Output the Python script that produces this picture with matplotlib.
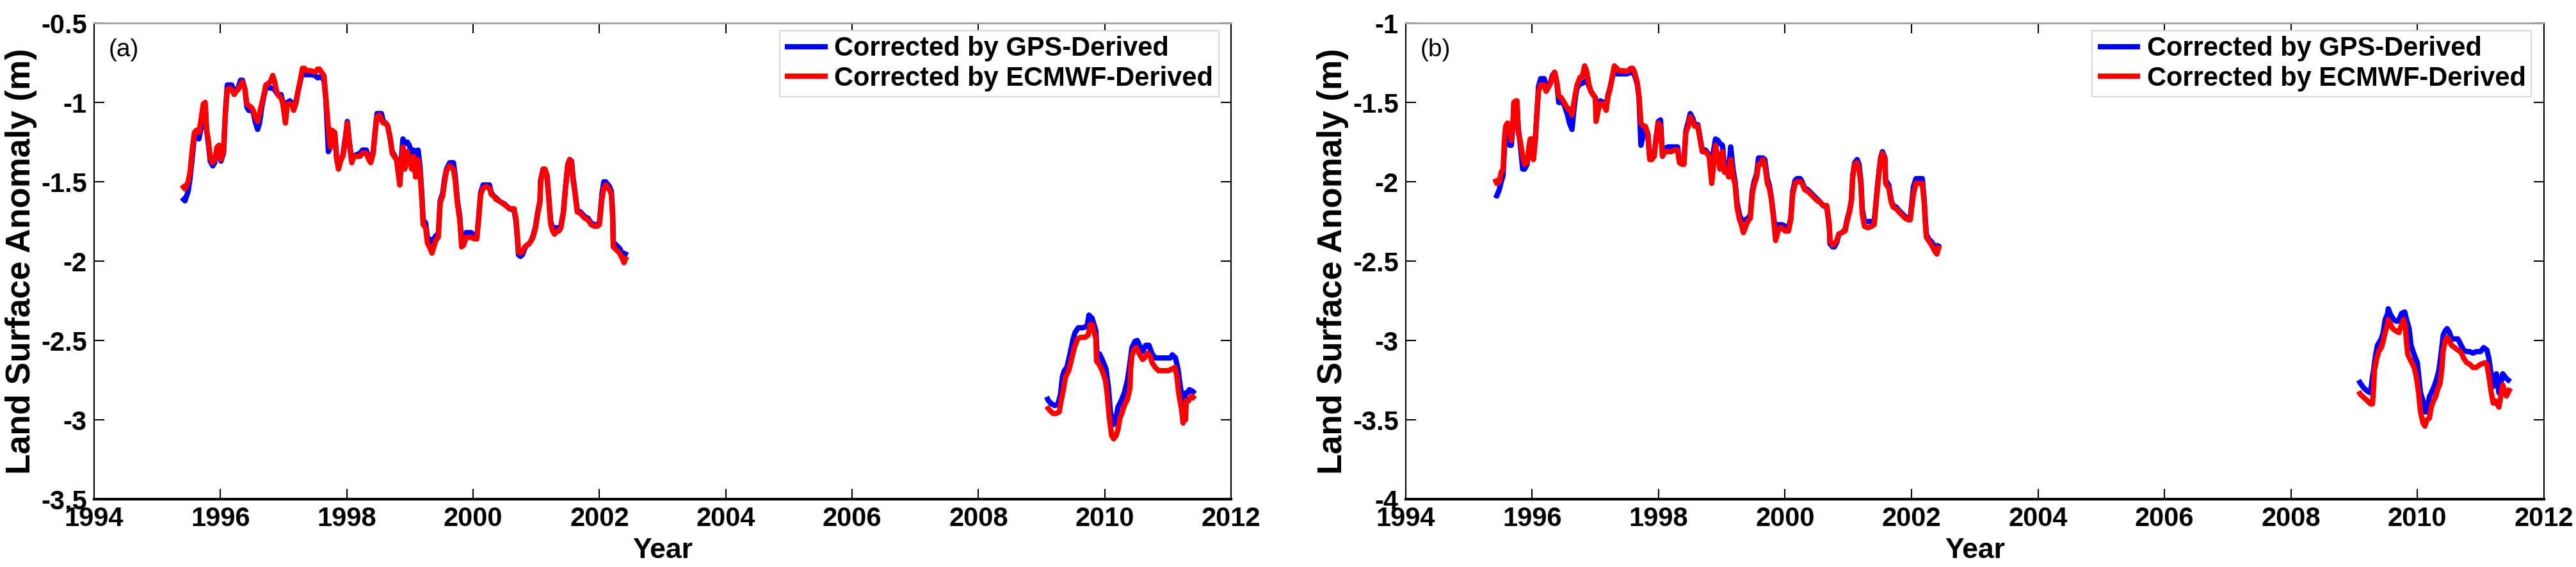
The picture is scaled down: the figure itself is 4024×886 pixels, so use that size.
import matplotlib
matplotlib.use('Agg')
from matplotlib import pyplot as plt
from matplotlib.ticker import FormatStrFormatter, MultipleLocator

plt.rcParams['font.family'] = ['Liberation Sans', 'DejaVu Sans']
plt.rcParams['font.weight'] = 'bold'

# ---- panel (a), 1995-2002 part ----
a_year1 = [1995.39, 1995.44, 1995.49, 1995.52, 1995.56, 1995.59, 1995.62, 1995.66, 1995.69, 1995.73,
           1995.76, 1995.78, 1995.81, 1995.84, 1995.88, 1995.91, 1995.95, 1995.98, 1996.01, 1996.05,
           1996.08, 1996.11, 1996.15, 1996.18, 1996.22, 1996.25, 1996.28, 1996.32, 1996.35, 1996.39,
           1996.42, 1996.45, 1996.49, 1996.52, 1996.55, 1996.59, 1996.62, 1996.66, 1996.69, 1996.72,
           1996.76, 1996.79, 1996.83, 1996.86, 1996.89, 1996.93, 1996.96, 1996.99, 1997.03, 1997.06,
           1997.10, 1997.13, 1997.16, 1997.20, 1997.23, 1997.27, 1997.30, 1997.33, 1997.37, 1997.43,
           1997.50, 1997.54, 1997.57, 1997.60, 1997.64, 1997.67, 1997.71, 1997.74, 1997.77, 1997.81,
           1997.84, 1997.87, 1997.91, 1997.94, 1997.98, 1998.01, 1998.04, 1998.08, 1998.11, 1998.15,
           1998.21, 1998.25, 1998.31, 1998.35, 1998.38, 1998.42, 1998.45, 1998.48, 1998.52, 1998.55,
           1998.58, 1998.62, 1998.65, 1998.69, 1998.72, 1998.75, 1998.79, 1998.84,
           1998.86, 1998.89, 1998.92, 1998.96, 1998.99, 1999.03, 1999.06, 1999.09, 1999.13, 1999.16,
           1999.19, 1999.21, 1999.25, 1999.28, 1999.31, 1999.35, 1999.38, 1999.41, 1999.45, 1999.48,
           1999.52, 1999.55, 1999.58, 1999.63, 1999.69, 1999.72, 1999.75, 1999.79, 1999.82, 1999.85,
           1999.89, 1999.92, 1999.97, 2000.02, 2000.06, 2000.09, 2000.12, 2000.16, 2000.21, 2000.26,
           2000.29, 2000.33, 2000.36, 2000.41, 2000.45, 2000.50, 2000.55, 2000.58, 2000.65, 2000.68,
           2000.70, 2000.72, 2000.75, 2000.78, 2000.82, 2000.85, 2000.89, 2000.92, 2000.95, 2000.99,
           2001.02, 2001.06, 2001.07, 2001.11, 2001.14, 2001.17, 2001.19, 2001.23, 2001.26, 2001.29,
           2001.33, 2001.36, 2001.39, 2001.43, 2001.46, 2001.50, 2001.53, 2001.56, 2001.58, 2001.61,
           2001.65, 2001.70, 2001.77, 2001.82, 2001.87, 2001.92, 2001.97, 2002.00, 2002.04, 2002.07,
           2002.10, 2002.16, 2002.19, 2002.21, 2002.22, 2002.27, 2002.32, 2002.36, 2002.39, 2002.43]
a_ecmwf1 = [-1.52, -1.545, -1.50, -1.44, -1.28, -1.19, -1.175, -1.19, -1.12, -1.01,
            -1.00, -1.16, -1.24, -1.35, -1.38, -1.36, -1.28, -1.27, -1.36, -1.31,
            -1.07, -0.92, -0.91, -0.92, -0.95, -0.93, -0.92, -0.89, -0.87, -0.92,
            -1.01, -1.02, -1.03, -1.05, -1.09, -1.12, -1.07, -1.00, -0.95, -0.89,
            -0.88, -0.87, -0.83, -0.87, -0.93, -0.96, -0.97, -1.01, -1.13, -1.01,
            -1.01, -1.01, -1.05, -1.00, -0.93, -0.85, -0.785, -0.785, -0.80, -0.80,
            -0.81, -0.79, -0.79, -0.81, -0.83, -0.97, -1.16, -1.28, -1.175, -1.19,
            -1.35, -1.42, -1.36, -1.34, -1.23, -1.13, -1.25, -1.38, -1.34, -1.34,
            -1.34, -1.32, -1.32, -1.36, -1.38, -1.32, -1.19, -1.09, -1.08, -1.11,
            -1.13, -1.13, -1.15, -1.23, -1.32, -1.34, -1.36, -1.52,
            -1.42, -1.28, -1.42, -1.31, -1.36, -1.42, -1.34, -1.47, -1.36, -1.44,
            -1.61, -1.77, -1.79, -1.89, -1.91, -1.95, -1.91, -1.87, -1.85, -1.63,
            -1.59, -1.50, -1.43, -1.40, -1.42, -1.50, -1.63, -1.74, -1.91, -1.90,
            -1.85, -1.85, -1.85, -1.86, -1.86, -1.73, -1.58, -1.54, -1.53, -1.54,
            -1.58, -1.59, -1.61, -1.62, -1.63, -1.645, -1.66, -1.67, -1.67, -1.73,
            -1.83, -1.94, -1.95, -1.94, -1.91, -1.90, -1.89, -1.87, -1.85, -1.79,
            -1.71, -1.63, -1.50, -1.42, -1.42, -1.46, -1.56, -1.77, -1.81, -1.83,
            -1.81, -1.81, -1.79, -1.70, -1.56, -1.40, -1.36, -1.38, -1.48, -1.56,
            -1.69, -1.70, -1.73, -1.74, -1.77, -1.78, -1.78, -1.77, -1.61, -1.54,
            -1.52, -1.55, -1.58, -1.71, -1.91, -1.93, -1.95, -1.98, -2.01, -1.97]
a_gps1 = [-1.60, -1.62, -1.56, -1.48, -1.33, -1.20, -1.19, -1.23, -1.17, -1.02,
          -1.01, -1.17, -1.26, -1.37, -1.40, -1.38, -1.29, -1.28, -1.37, -1.32,
          -1.06, -0.89, -0.89, -0.89, -0.94, -0.92, -0.91, -0.86, -0.86, -0.92,
          -1.03, -1.05, -1.05, -1.06, -1.12, -1.17, -1.13, -1.02, -0.96, -0.91,
          -0.90, -0.91, -0.91, -0.92, -0.94, -0.96, -0.95, -1.00, -1.10, -1.00,
          -0.99, -1.00, -1.04, -0.99, -0.93, -0.86, -0.80, -0.825, -0.825, -0.825,
          -0.83, -0.845, -0.84, -0.84, -0.86, -0.98, -1.31, -1.28, -1.18, -1.19,
          -1.35, -1.41, -1.36, -1.33, -1.22, -1.12, -1.24, -1.37, -1.34, -1.33,
          -1.32, -1.30, -1.30, -1.35, -1.37, -1.31, -1.18, -1.07, -1.07, -1.07,
          -1.12, -1.13, -1.15, -1.23, -1.31, -1.33, -1.36, -1.50,
          -1.38, -1.23, -1.26, -1.25, -1.27, -1.32, -1.30, -1.40, -1.30, -1.40,
          -1.58, -1.74, -1.76, -1.86, -1.86, -1.88, -1.86, -1.84, -1.83, -1.62,
          -1.57, -1.48, -1.42, -1.38, -1.38, -1.47, -1.61, -1.72, -1.88, -1.85,
          -1.82, -1.82, -1.82, -1.84, -1.85, -1.72, -1.57, -1.52, -1.52, -1.52,
          -1.57, -1.59, -1.60, -1.62, -1.63, -1.64, -1.66, -1.67, -1.68, -1.75,
          -1.85, -1.96, -1.97, -1.96, -1.92, -1.90, -1.89, -1.87, -1.84, -1.78,
          -1.70, -1.62, -1.49, -1.42, -1.43, -1.46, -1.55, -1.75, -1.79, -1.79,
          -1.79, -1.79, -1.78, -1.69, -1.55, -1.39, -1.36, -1.37, -1.46, -1.55,
          -1.68, -1.69, -1.72, -1.73, -1.76, -1.77, -1.77, -1.76, -1.58, -1.50,
          -1.50, -1.53, -1.56, -1.70, -1.88, -1.90, -1.92, -1.95, -1.97, -1.94]

# ---- panel (a), 2009-2011 part ----
a_year2_ecmwf = [2009.08, 2009.13, 2009.18, 2009.23, 2009.28, 2009.31, 2009.35, 2009.38, 2009.43, 2009.48,
                 2009.52, 2009.57, 2009.62, 2009.69, 2009.74, 2009.77, 2009.80, 2009.86, 2009.87, 2009.91,
                 2009.96, 2010.01, 2010.04, 2010.07, 2010.11, 2010.14, 2010.18, 2010.21, 2010.24, 2010.28,
                 2010.31, 2010.36, 2010.40, 2010.41, 2010.43, 2010.46, 2010.50, 2010.53, 2010.57, 2010.60,
                 2010.63, 2010.68, 2010.72, 2010.75, 2010.80, 2010.85, 2010.92, 2011.01, 2011.06, 2011.11,
                 2011.14, 2011.17, 2011.21, 2011.23, 2011.24, 2011.26, 2011.28, 2011.29, 2011.33, 2011.34,
                 2011.38, 2011.43]
a_ecmwf2 = [-2.915, -2.94, -2.96, -2.96, -2.95, -2.88, -2.80, -2.73, -2.69, -2.61,
            -2.545, -2.49, -2.48, -2.48, -2.465, -2.40, -2.40, -2.49, -2.63, -2.65,
            -2.69, -2.75, -2.84, -2.98, -3.10, -3.12, -3.10, -3.06, -2.99, -2.95,
            -2.91, -2.87, -2.80, -2.68, -2.60, -2.56, -2.545, -2.57, -2.60, -2.62,
            -2.61, -2.58, -2.60, -2.64, -2.67, -2.69, -2.69, -2.69, -2.68, -2.67,
            -2.72, -2.83, -2.92, -2.98, -3.02, -2.935, -3.00, -2.88, -2.88, -2.87,
            -2.85, -2.87]
a_year2_gps = [2009.08, 2009.11, 2009.16, 2009.21, 2009.26, 2009.30, 2009.33, 2009.36, 2009.40, 2009.45,
               2009.50, 2009.53, 2009.58, 2009.65, 2009.72, 2009.75, 2009.80, 2009.86, 2009.88, 2009.92,
               2009.97, 2010.02, 2010.06, 2010.09, 2010.14, 2010.18, 2010.21, 2010.26, 2010.31, 2010.36,
               2010.40, 2010.43, 2010.48, 2010.515, 2010.55, 2010.60, 2010.65, 2010.70, 2010.75, 2010.80,
               2010.87, 2010.97, 2011.04, 2011.07, 2011.12, 2011.16, 2011.19, 2011.23, 2011.24, 2011.28,
               2011.31, 2011.34, 2011.39, 2011.43]
a_gps2 = [-2.855, -2.88, -2.90, -2.91, -2.90, -2.84, -2.73, -2.69, -2.67, -2.585,
          -2.49, -2.45, -2.42, -2.42, -2.41, -2.34, -2.36, -2.44, -2.60, -2.585,
          -2.63, -2.68, -2.80, -2.95, -3.03, -2.99, -2.92, -2.88, -2.83, -2.75,
          -2.64, -2.545, -2.505, -2.50, -2.53, -2.57, -2.53, -2.53, -2.585, -2.61,
          -2.61, -2.61, -2.61, -2.59, -2.61, -2.68, -2.77, -2.88, -2.95, -2.83,
          -2.83, -2.81, -2.82, -2.835]

# ---- panel (b), 1995-2002 part ----
b_year1 = [1995.41, 1995.44, 1995.48, 1995.51, 1995.54, 1995.56, 1995.58, 1995.61, 1995.645, 1995.67,
           1995.70, 1995.71, 1995.74, 1995.76, 1995.78, 1995.81, 1995.85, 1995.88, 1995.92, 1995.95,
           1995.97, 1996.00, 1996.02, 1996.05, 1996.08, 1996.10, 1996.135, 1996.19, 1996.22, 1996.25,
           1996.29, 1996.32, 1996.355, 1996.39, 1996.42, 1996.46, 1996.49, 1996.52, 1996.56, 1996.59,
           1996.63, 1996.66, 1996.69, 1996.71, 1996.76, 1996.79, 1996.83, 1996.86, 1996.90, 1996.93,
           1996.96, 1997.00, 1997.01, 1997.05, 1997.08, 1997.13, 1997.17, 1997.20, 1997.23, 1997.27,
           1997.30, 1997.34, 1997.37, 1997.44, 1997.50, 1997.56, 1997.59, 1997.62, 1997.66, 1997.69,
           1997.72, 1997.76, 1997.79, 1997.83, 1997.86, 1997.89, 1997.93, 1997.96, 1997.995, 1998.03,
           1998.06, 1998.10, 1998.15, 1998.20, 1998.25, 1998.30, 1998.33, 1998.37, 1998.40, 1998.43,
           1998.47, 1998.50, 1998.54, 1998.57, 1998.62, 1998.65, 1998.69, 1998.74,
           1998.80, 1998.84, 1998.87, 1998.90, 1998.94, 1998.97, 1999.01, 1999.04, 1999.07, 1999.11,
           1999.14, 1999.18, 1999.21, 1999.24, 1999.28, 1999.31, 1999.34, 1999.38, 1999.41, 1999.45,
           1999.48, 1999.51, 1999.55, 1999.58, 1999.61, 1999.65, 1999.68, 1999.72, 1999.75, 1999.78,
           1999.82, 1999.85, 1999.89, 1999.92, 1999.95, 2000.00, 2000.055, 2000.09, 2000.12, 2000.16,
           2000.19, 2000.24, 2000.27, 2000.31, 2000.36, 2000.41, 2000.46, 2000.51, 2000.56, 2000.60,
           2000.66, 2000.70, 2000.71, 2000.75, 2000.78, 2000.82, 2000.85, 2000.90, 2000.95, 2000.98,
           2001.02, 2001.05, 2001.07, 2001.10, 2001.14, 2001.17, 2001.20, 2001.22, 2001.255, 2001.31,
           2001.37, 2001.41, 2001.44, 2001.47, 2001.51, 2001.54, 2001.58, 2001.59, 2001.64, 2001.68,
           2001.71, 2001.76, 2001.80, 2001.85, 2001.90, 2001.95, 2001.98, 2002.00, 2002.03, 2002.07,
           2002.12, 2002.17, 2002.20, 2002.22, 2002.235, 2002.27, 2002.32, 2002.37, 2002.40, 2002.44]
b_ecmwf1 = [-1.98, -2.01, -2.00, -1.94, -1.92, -1.74, -1.65, -1.63, -1.65, -1.74,
            -1.59, -1.50, -1.49, -1.49, -1.69, -1.74, -1.84, -1.89, -1.88, -1.78,
            -1.73, -1.73, -1.86, -1.73, -1.54, -1.43, -1.39, -1.39, -1.43, -1.41,
            -1.38, -1.34, -1.31, -1.37, -1.46, -1.47, -1.49, -1.51, -1.54, -1.54,
            -1.58, -1.50, -1.43, -1.39, -1.34, -1.34, -1.27, -1.30, -1.39, -1.43,
            -1.45, -1.47, -1.62, -1.54, -1.51, -1.51, -1.55, -1.46, -1.42, -1.33,
            -1.27, -1.285, -1.30, -1.30, -1.305, -1.285, -1.285, -1.31, -1.37, -1.46,
            -1.63, -1.65, -1.65, -1.70, -1.86, -1.86, -1.84, -1.73, -1.63, -1.65,
            -1.84, -1.81, -1.81, -1.81, -1.80, -1.80, -1.88, -1.89, -1.89, -1.69,
            -1.65, -1.59, -1.62, -1.65, -1.65, -1.72, -1.81, -1.81,
            -1.84, -2.01, -1.89, -1.77, -1.85, -1.92, -1.81, -1.94, -1.92, -1.97,
            -1.86, -1.97, -2.02, -2.16, -2.24, -2.27, -2.32, -2.28, -2.25, -2.23,
            -2.08, -2.02, -1.97, -1.89, -1.89, -1.86, -1.89, -2.01, -2.04, -2.10,
            -2.24, -2.37, -2.31, -2.29, -2.29, -2.31, -2.31, -2.24, -2.08, -2.01,
            -2.00, -2.00, -2.01, -2.05, -2.06, -2.08, -2.10, -2.12, -2.13, -2.15,
            -2.15, -2.27, -2.37, -2.40, -2.39, -2.37, -2.33, -2.32, -2.31, -2.25,
            -2.19, -2.12, -1.97, -1.89, -1.88, -1.92, -2.02, -2.20, -2.28, -2.29,
            -2.28, -2.27, -2.13, -2.00, -1.86, -1.82, -1.86, -2.01, -2.04, -2.13,
            -2.16, -2.17, -2.19, -2.21, -2.23, -2.24, -2.24, -2.17, -2.08, -2.01,
            -2.01, -2.01, -2.13, -2.27, -2.35, -2.37, -2.40, -2.44, -2.455, -2.40]
b_gps1 = [-2.08, -2.09, -2.05, -2.00, -1.96, -1.80, -1.68, -1.65, -1.77, -1.77,
          -1.62, -1.52, -1.50, -1.51, -1.66, -1.76, -1.92, -1.92, -1.89, -1.79,
          -1.74, -1.74, -1.85, -1.73, -1.53, -1.40, -1.35, -1.35, -1.41, -1.39,
          -1.37, -1.33, -1.31, -1.38, -1.50, -1.50, -1.50, -1.53, -1.58, -1.63,
          -1.67, -1.55, -1.45, -1.41, -1.38, -1.38, -1.37, -1.36, -1.40, -1.43,
          -1.45, -1.47, -1.55, -1.50, -1.49, -1.50, -1.53, -1.45, -1.41, -1.34,
          -1.30, -1.32, -1.32, -1.32, -1.32, -1.31, -1.31, -1.33, -1.38, -1.47,
          -1.77, -1.70, -1.66, -1.70, -1.85, -1.85, -1.83, -1.72, -1.62, -1.61,
          -1.82, -1.79, -1.78, -1.78, -1.78, -1.78, -1.87, -1.88, -1.88, -1.68,
          -1.62, -1.57, -1.60, -1.64, -1.64, -1.71, -1.80, -1.80,
          -1.83, -1.96, -1.80, -1.73, -1.74, -1.76, -1.77, -1.90, -1.88, -1.92,
          -1.78, -1.93, -2.00, -2.13, -2.21, -2.24, -2.24, -2.24, -2.23, -2.21,
          -2.06, -2.00, -1.95, -1.85, -1.85, -1.85, -1.86, -1.98, -2.02, -2.09,
          -2.22, -2.33, -2.27, -2.27, -2.27, -2.28, -2.29, -2.23, -2.06, -1.99,
          -1.98, -1.98, -2.00, -2.04, -2.05, -2.07, -2.09, -2.11, -2.13, -2.15,
          -2.16, -2.29, -2.39, -2.41, -2.41, -2.38, -2.33, -2.32, -2.30, -2.24,
          -2.18, -2.11, -1.96, -1.88, -1.86, -1.89, -2.00, -2.17, -2.25, -2.25,
          -2.25, -2.25, -2.12, -1.99, -1.85, -1.81, -1.85, -1.99, -2.02, -2.12,
          -2.15, -2.16, -2.18, -2.20, -2.22, -2.23, -2.23, -2.15, -2.03, -1.98,
          -1.98, -1.98, -2.11, -2.25, -2.33, -2.36, -2.38, -2.41, -2.42, -2.39]

# ---- panel (b), 2009-2011 part ----
b_year2_ecmwf = [2009.07, 2009.10, 2009.155, 2009.21, 2009.26, 2009.29, 2009.31, 2009.32, 2009.36, 2009.39,
                 2009.43, 2009.46, 2009.49, 2009.53, 2009.54, 2009.58, 2009.61, 2009.66, 2009.71, 2009.75,
                 2009.78, 2009.81, 2009.83, 2009.85, 2009.90, 2009.95, 2009.98, 2010.02, 2010.05, 2010.09,
                 2010.12, 2010.15, 2010.19, 2010.22, 2010.255, 2010.29, 2010.32, 2010.36, 2010.39, 2010.41,
                 2010.44, 2010.47, 2010.51, 2010.54, 2010.59, 2010.64, 2010.68, 2010.71, 2010.73, 2010.78,
                 2010.83, 2010.88, 2010.93, 2011.00, 2011.07, 2011.10, 2011.13, 2011.17, 2011.20, 2011.23,
                 2011.29, 2011.35, 2011.41, 2011.47]
b_ecmwf2 = [-3.32, -3.34, -3.36, -3.38, -3.40, -3.40, -3.29, -3.19, -3.11, -3.07,
            -3.045, -3.005, -2.95, -2.90, -2.87, -2.90, -2.925, -2.94, -2.95, -2.90,
            -2.87, -2.91, -3.02, -3.09, -3.13, -3.17, -3.22, -3.33, -3.45, -3.52,
            -3.54, -3.50, -3.49, -3.42, -3.38, -3.355, -3.31, -3.27, -3.17, -3.06,
            -3.005, -2.98, -3.005, -3.03, -3.045, -3.06, -3.07, -3.09, -3.11, -3.14,
            -3.15, -3.17, -3.17, -3.15, -3.14, -3.15, -3.22, -3.33, -3.395, -3.38,
            -3.42, -3.28, -3.35, -3.30]
b_year2_gps = [2009.07, 2009.10, 2009.155, 2009.21, 2009.26, 2009.29, 2009.31, 2009.34, 2009.37, 2009.43,
               2009.46, 2009.49, 2009.53, 2009.54, 2009.58, 2009.63, 2009.68, 2009.71, 2009.75, 2009.80,
               2009.83, 2009.87, 2009.90, 2009.95, 2010.00, 2010.05, 2010.09, 2010.12, 2010.15, 2010.19,
               2010.22, 2010.255, 2010.30, 2010.34, 2010.37, 2010.41, 2010.44, 2010.47, 2010.51, 2010.54,
               2010.59, 2010.64, 2010.68, 2010.73, 2010.78, 2010.83, 2010.88, 2010.93, 2011.00, 2011.05,
               2011.10, 2011.13, 2011.17, 2011.20, 2011.23, 2011.25, 2011.29, 2011.35, 2011.41, 2011.47]
b_gps2 = [-3.25, -3.27, -3.30, -3.32, -3.33, -3.23, -3.18, -3.09, -3.03, -2.99,
          -2.95, -2.87, -2.83, -2.80, -2.84, -2.87, -2.88, -2.87, -2.83, -2.82,
          -2.87, -2.925, -3.03, -3.09, -3.14, -3.33, -3.38, -3.45, -3.45, -3.355,
          -3.33, -3.30, -3.25, -3.19, -3.10, -2.965, -2.94, -2.925, -2.95, -2.99,
          -2.99, -2.99, -3.02, -3.06, -3.07, -3.07, -3.08, -3.07, -3.07, -3.045,
          -3.06, -3.11, -3.22, -3.29, -3.25, -3.21, -3.33, -3.21, -3.24, -3.26]

year_ticks = list(range(1994, 2013, 2))
labels = ['Corrected by GPS-Derived', 'Corrected by ECMWF-Derived']


def draw_panel(ax, segs, ylim, tag):
    # blue first, red drawn over it
    for k, (yg, g, ye, e) in enumerate(segs):
        ax.plot(yg, g, color='#0000ff', lw=6, solid_capstyle='butt',
                label=labels[0] if k == 0 else None)
        ax.plot(ye, e, color='#ff0000', lw=6, solid_capstyle='butt',
                label=labels[1] if k == 0 else None)
    ax.set_xlim(1994, 2012)
    ax.set_ylim(*ylim)
    ax.set_xticks(year_ticks)
    ax.yaxis.set_major_locator(MultipleLocator(0.5))
    ax.yaxis.set_major_formatter(FormatStrFormatter('%g'))
    ax.tick_params(direction='in', length=11.5, width=1.5, top=True, right=True,
                   labelsize=30, pad=8)
    for t in ax.yaxis.get_major_ticks():
        t.tick2line.set_color('#b0b0b0')
    ax.spines['top'].set_color('#a0a0a0')
    ax.spines['top'].set_linewidth(2)
    ax.spines['bottom'].set_linewidth(3)
    ax.spines['left'].set_linewidth(1.5)
    ax.spines['right'].set_linewidth(1.5)
    ax.set_xlabel('Year', fontsize=32, fontweight='bold')
    ax.xaxis.set_label_coords(0.5, -0.08)
    ax.set_ylabel('Land Surface Anomaly (m)', fontsize=38, fontweight='bold')
    ax.yaxis.set_label_coords(-0.05, 0.5)
    ax.text(0.013, 0.968, tag, transform=ax.transAxes, fontsize=28,
            fontweight='normal', ha='left', va='top')
    leg = ax.legend(loc='upper right', bbox_to_anchor=(0.989, 0.984), borderaxespad=0,
                    fontsize=30, handlelength=1.6, handletextpad=0.25, borderpad=0.2,
                    labelspacing=0.15, fancybox=False, framealpha=1)
    leg.get_frame().set_edgecolor('#d8d8d8')
    leg.get_frame().set_linewidth(1.5)


fig = plt.figure(figsize=(40.24, 8.86), dpi=100)
ax1 = fig.add_axes([0.0365, 0.1196, 0.4414, 0.8397])
ax2 = fig.add_axes([0.5457, 0.1196, 0.4418, 0.8397])

draw_panel(ax1, [(a_year1, a_gps1, a_year1, a_ecmwf1),
                 (a_year2_gps, a_gps2, a_year2_ecmwf, a_ecmwf2)], (-3.5, -0.5), '(a)')
draw_panel(ax2, [(b_year1, b_gps1, b_year1, b_ecmwf1),
                 (b_year2_gps, b_gps2, b_year2_ecmwf, b_ecmwf2)], (-4, -1), '(b)')

fig.savefig('out.png', dpi=100)
